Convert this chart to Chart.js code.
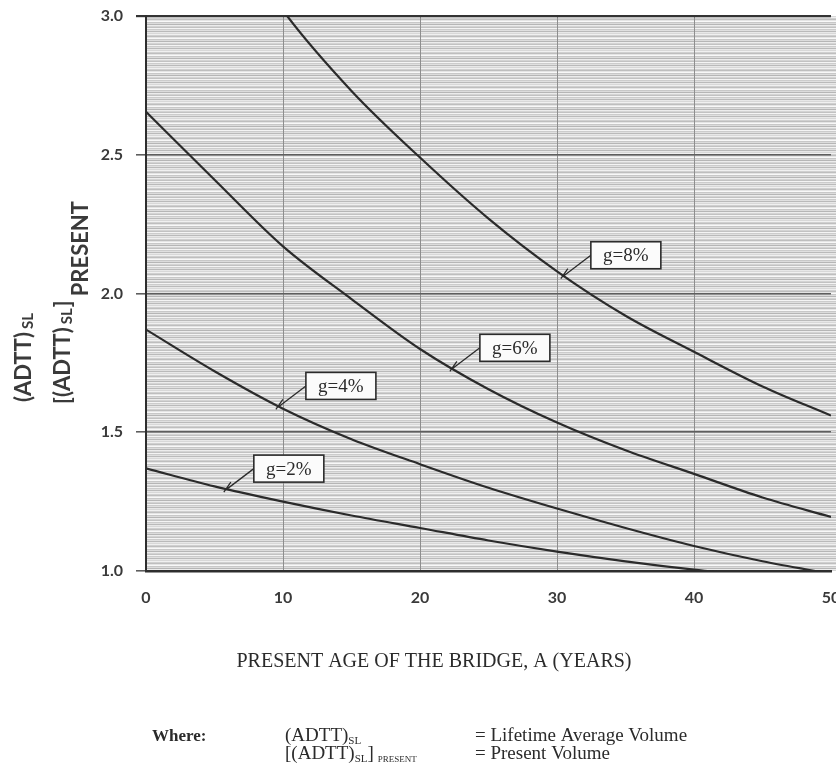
<!DOCTYPE html>
<html>
<head>
<meta charset="utf-8">
<script src="https://cdn.jsdelivr.net/npm/chart.js@4.4.0/dist/chart.umd.min.js"></script>
<style>
  html, body { margin: 0; padding: 0; background: #fff; }
  canvas { display: block; }
</style>
</head>
<body>
<canvas id="chart" width="836" height="766"></canvas>
<script>
// bridge age (years) and lifetime/present ADTT ratio for each growth rate
const ages = [0, 5, 10, 15, 20, 25, 30, 35, 40, 45, 50];
const ratioG2 = [1.37, 1.305, 1.25, 1.20, 1.155, 1.11, 1.07, 1.035, 1.005, 0.98, 0.955];
const ratioG4 = [1.87, 1.72, 1.585, 1.475, 1.385, 1.30, 1.225, 1.155, 1.09, 1.035, 0.99];
const ratioG6 = [2.655, 2.41, 2.17, 1.98, 1.80, 1.655, 1.535, 1.435, 1.35, 1.265, 1.195];
const ratioG8 = [3.95, 3.40, 3.02, 2.73, 2.49, 2.27, 2.08, 1.92, 1.79, 1.665, 1.56];
const seriesNames = ['g=2%', 'g=4%', 'g=6%', 'g=8%'];
const yTicks = [1.0, 1.5, 2.0, 2.5, 3.0];
const xTicks = [0, 10, 20, 30, 40, 50];
// age at which each callout points onto its curve
const calloutAges = [5.9, 9.7, 22.4, 30.5];

const allSeries = [ratioG2, ratioG4, ratioG6, ratioG8];
const ink = '#2b2b2b';

// value along a curve at a fractional age
function ratioAt(values, a) {
  for (let i = 0; i < ages.length - 1; i++) {
    if (a >= ages[i] && a <= ages[i + 1]) {
      const f = (a - ages[i]) / (ages[i + 1] - ages[i]);
      return values[i] + f * (values[i + 1] - values[i]);
    }
  }
  return values[values.length - 1];
}

// scanned-paper shading behind the plot
function makeShade(ctx) {
  const rows = [240, 208, 190, 228, 248, 200, 220, 182, 236, 212, 194, 244, 204, 224, 186, 232, 216];
  const tile = document.createElement('canvas');
  tile.width = 1;
  tile.height = rows.length;
  const t = tile.getContext('2d');
  rows.forEach((v, i) => {
    t.fillStyle = `rgb(${v},${v},${v})`;
    t.fillRect(0, i, 1, 1);
  });
  return ctx.createPattern(tile, 'repeat');
}

const shadePlugin = {
  id: 'shade',
  beforeDraw(chart) {
    const { ctx, chartArea } = chart;
    ctx.save();
    ctx.fillStyle = makeShade(ctx);
    ctx.fillRect(chartArea.left, chartArea.top, chart.width - chartArea.left, chartArea.bottom - chartArea.top);
    ctx.restore();
  }
};

const calloutPlugin = {
  id: 'callouts',
  afterDatasetsDraw(chart) {
    const { ctx, scales } = chart;
    ctx.save();
    allSeries.forEach((values, i) => {
      const a = calloutAges[i];
      const px = scales.x.getPixelForValue(a);
      const py = scales.y.getPixelForValue(ratioAt(values, a));
      const bx = px + 27, by = py - 34, bw = 70, bh = 27;
      // leader line and tick onto the curve
      ctx.strokeStyle = ink;
      ctx.lineWidth = 1.3;
      ctx.beginPath();
      ctx.moveTo(px, py);
      ctx.lineTo(bx, by + bh / 2);
      ctx.moveTo(px - 3, py + 3);
      ctx.lineTo(px + 4, py - 7);
      ctx.stroke();
      ctx.fillStyle = '#fbfbfb';
      ctx.fillRect(bx, by, bw, bh);
      ctx.lineWidth = 1.6;
      ctx.strokeRect(bx, by, bw, bh);
      ctx.fillStyle = ink;
      ctx.font = '19px "Liberation Serif"';
      ctx.textAlign = 'center';
      ctx.textBaseline = 'middle';
      ctx.fillText(seriesNames[i], bx + bw / 2, by + bh / 2 + 1);
    });
    ctx.restore();
  }
};

// draws a row of text pieces, each with its own font and baseline shift
function runs(ctx, x, y, parts) {
  let cx = x;
  parts.forEach(p => {
    ctx.font = p.font;
    ctx.fillText(p.t, cx, y + (p.dy || 0));
    cx += ctx.measureText(p.t).width + (p.gap || 0);
  });
}

const titlePlugin = {
  id: 'titles',
  afterDraw(chart) {
    const { ctx } = chart;
    ctx.save();
    ctx.fillStyle = '#3a3a3a';
    ctx.textAlign = 'left';
    ctx.textBaseline = 'alphabetic';

    // rotated y-axis title: (ADTT)SL over [(ADTT)SL] PRESENT
    const big = 'bold 22px Lato';
    const sub = 'bold 15px Lato';
    ctx.save();
    ctx.translate(31, 402);
    ctx.rotate(-Math.PI / 2);
    runs(ctx, 0, 0, [{ t: '(ADTT)', font: big, gap: 3 }, { t: 'SL', font: sub, dy: 2 }]);
    ctx.restore();
    ctx.save();
    ctx.translate(70, 404);
    ctx.rotate(-Math.PI / 2);
    runs(ctx, 0, 0, [
      { t: '[(ADTT)', font: big, gap: 3 },
      { t: 'SL', font: sub, dy: 2, gap: 1 },
      { t: ']', font: big, gap: 4 },
      { t: 'PRESENT', font: big, dy: 18 }
    ]);
    ctx.restore();

    // x-axis title
    ctx.fillStyle = ink;
    ctx.font = '20px "Liberation Serif"';
    ctx.textAlign = 'center';
    ctx.fillText('PRESENT AGE OF THE BRIDGE, A (YEARS)', 434, 667);

    // notation key
    ctx.textAlign = 'left';
    ctx.font = 'bold 17px "Liberation Serif"';
    ctx.fillText('Where:', 152, 741);
    const kf = '19px "Liberation Serif"';
    const ks = '11px "Liberation Serif"';
    runs(ctx, 285, 741, [{ t: '(ADTT)', font: kf }, { t: 'SL', font: ks, dy: 3 }]);
    runs(ctx, 285, 759, [
      { t: '[(ADTT)', font: kf },
      { t: 'SL', font: ks, dy: 3 },
      { t: ']', font: kf, gap: 4 },
      { t: 'PRESENT', font: '9px "Liberation Serif"', dy: 3 }
    ]);
    ctx.font = kf;
    ctx.fillText('= Lifetime Average Volume', 475, 741);
    ctx.fillText('= Present Volume', 475, 759);
    ctx.restore();
  }
};

const datasets = allSeries.map((values, i) => ({
  label: seriesNames[i],
  data: ages.map((a, j) => ({ x: a, y: values[j] })),
  borderColor: ink,
  borderWidth: 2.2,
  pointRadius: 0,
  fill: false,
  cubicInterpolationMode: 'monotone'
}));

new Chart(document.getElementById('chart'), {
  type: 'line',
  data: { datasets },
  options: {
    responsive: false,
    animation: false,
    layout: { padding: { top: 16, right: 5, left: 0, bottom: 0 } },
    plugins: { legend: { display: false }, tooltip: { enabled: false } },
    scales: {
      x: {
        type: 'linear',
        min: 0,
        max: 50,
        afterBuildTicks: s => { s.ticks = xTicks.map(v => ({ value: v })); },
        afterFit: s => { s.height = 195; s.paddingLeft = 0; s.paddingRight = 0; },
        ticks: {
          padding: 17,
          color: '#3a3a3a',
          font: { family: 'Lato', weight: 'bold', size: 16 }
        },
        grid: {
          drawTicks: false,
          color: ctx => (ctx.tick && ctx.tick.value > 0 && ctx.tick.value < 50) ? '#8e8e8e' : 'rgba(0,0,0,0)',
          lineWidth: 1
        },
        border: { color: '#2e2e2e', width: 2.5 }
      },
      y: {
        min: 1,
        max: 3,
        afterBuildTicks: s => { s.ticks = yTicks.map(v => ({ value: v })); },
        afterFit: s => { s.width = 146; s.paddingTop = 0; s.paddingBottom = 0; },
        ticks: {
          padding: 13,
          color: '#3a3a3a',
          font: { family: 'Lato', weight: 'bold', size: 16 },
          callback: v => Number(v).toFixed(1)
        },
        grid: {
          tickLength: 10,
          color: ctx => (ctx.tick && ctx.tick.value === 3) ? '#333' : '#5e5e5e',
          lineWidth: ctx => (ctx.tick && ctx.tick.value === 3) ? 2.2 : 1.6
        },
        border: { color: '#2e2e2e', width: 2 }
      }
    }
  },
  plugins: [shadePlugin, calloutPlugin, titlePlugin]
});
</script>
</body>
</html>
